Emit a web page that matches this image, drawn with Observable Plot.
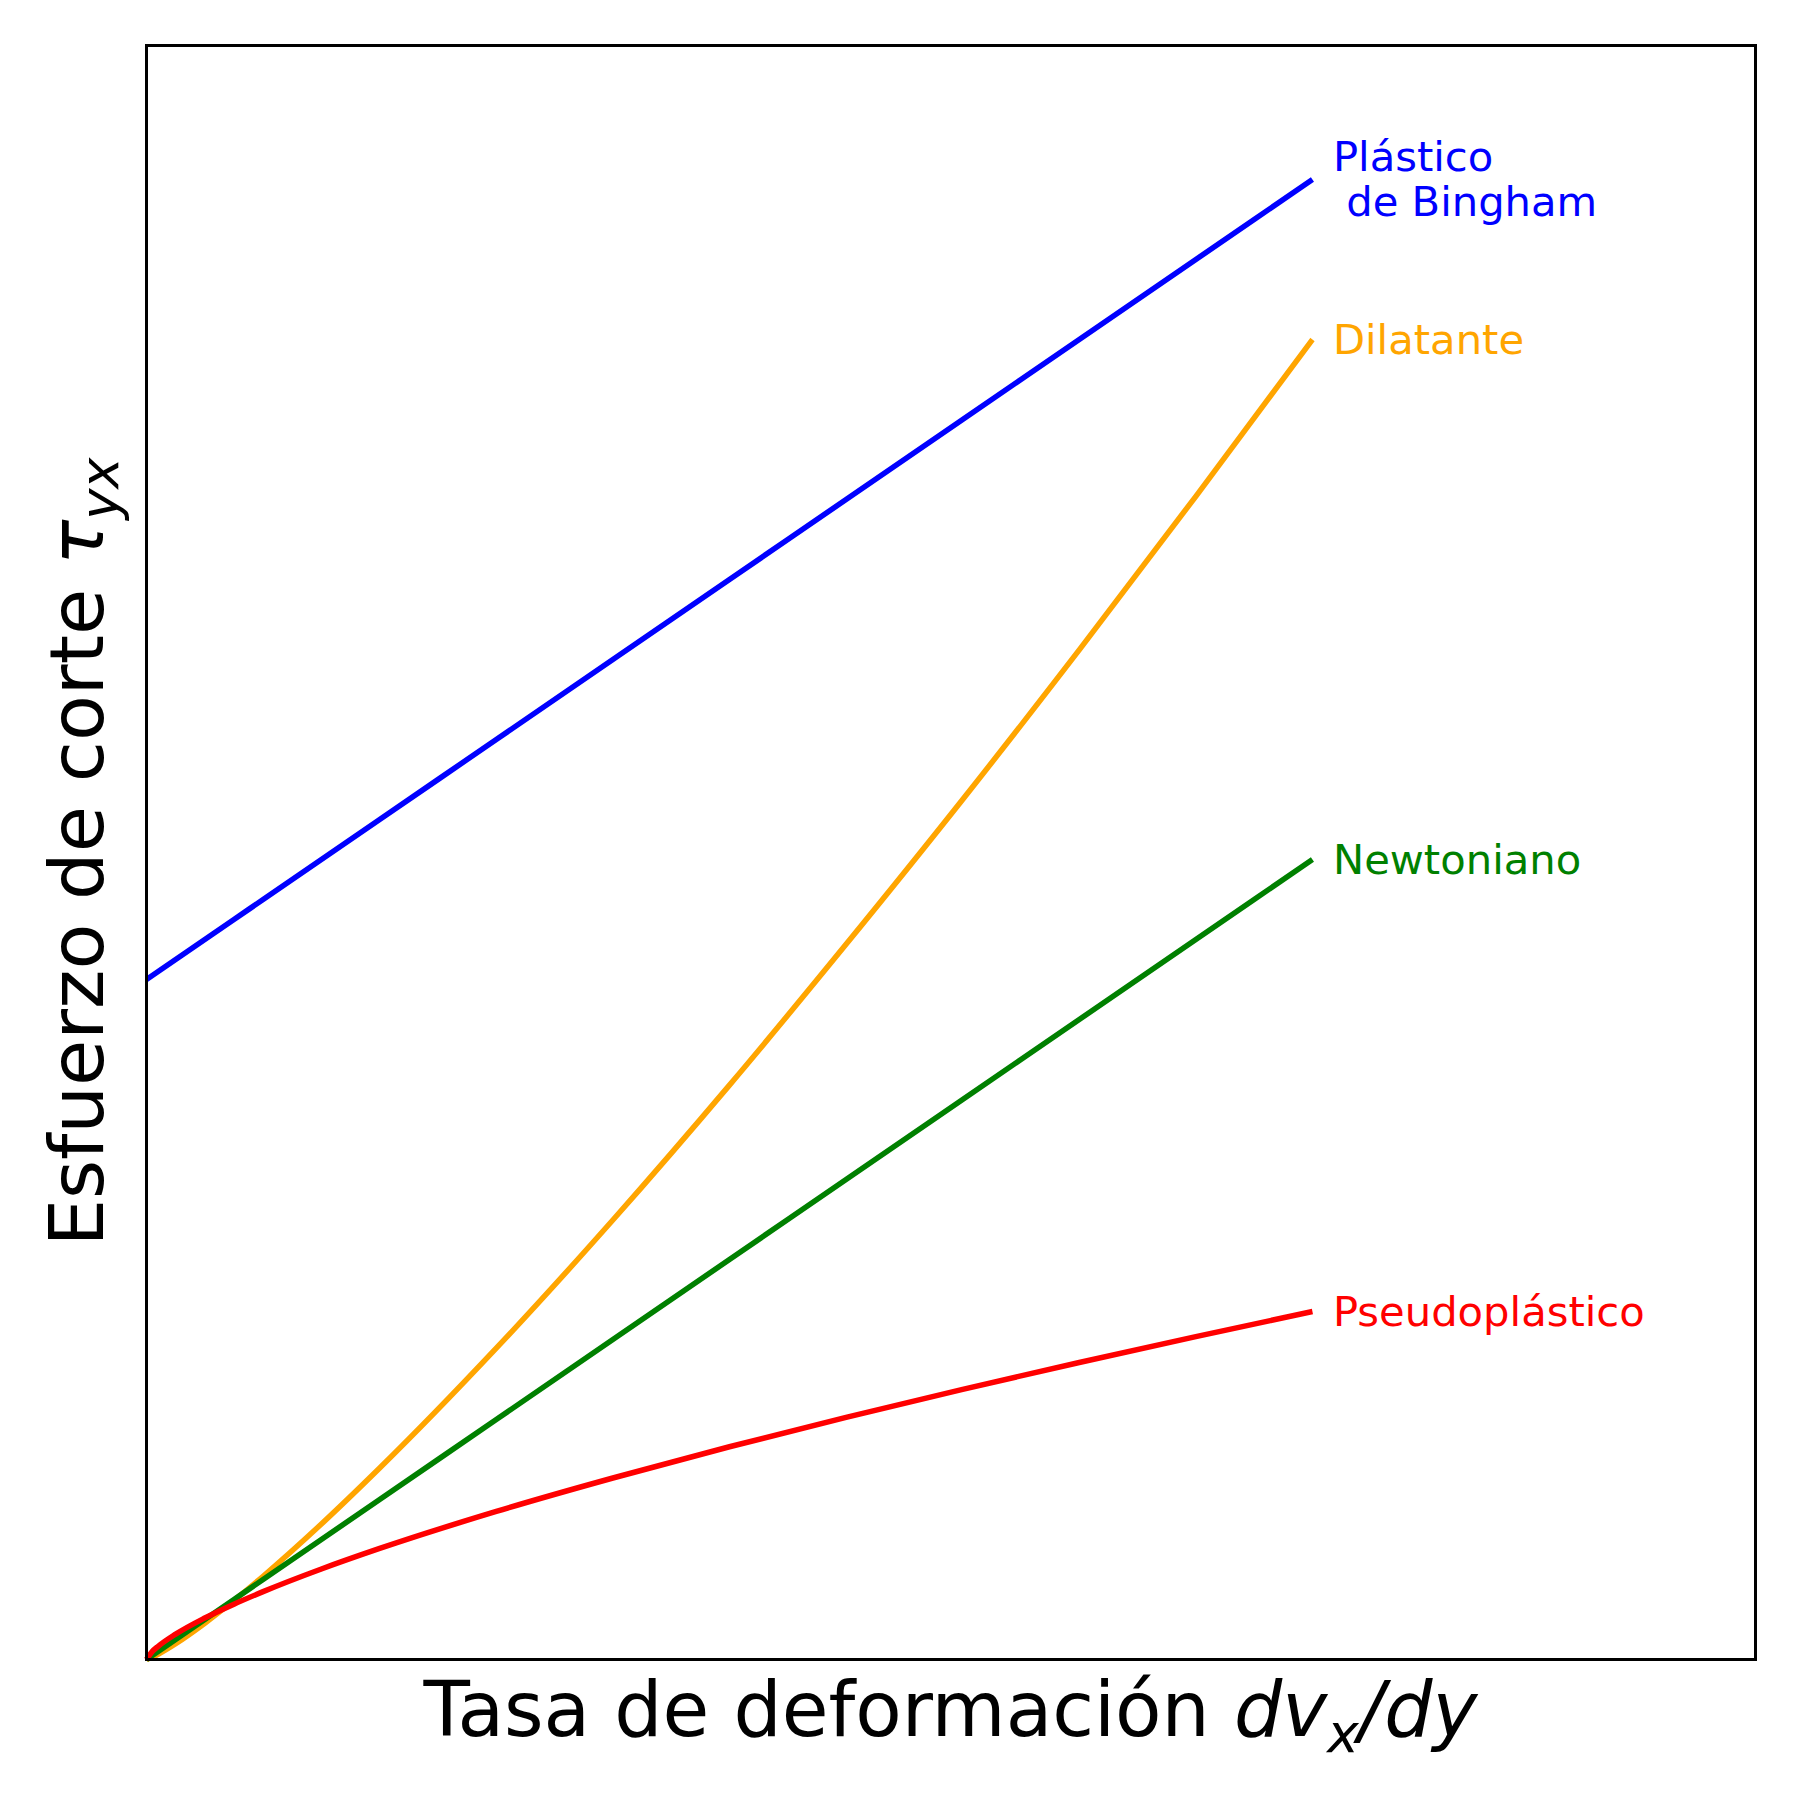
<!DOCTYPE html>
<html>
<head>
<meta charset="utf-8">
<script src="https://cdn.jsdelivr.net/npm/d3@7"></script>
<script src="https://cdn.jsdelivr.net/npm/@observablehq/plot@0.6"></script>
<style>
  html, body { margin: 0; padding: 0; background: #fff; }
  svg { display: block; }
</style>
</head>
<body>
<div id="chart"></div>
<script>
// Shear rate (arbitrary units)
const rates = [0, 0.05, 0.1, 0.25, 0.5, 0.75, 1, 1.5, 2, 3, 4, 5, 6, 7, 8, 9, 10];
// Shear stress for each fluid (arbitrary units)
const bingham     = [8.5, 8.55, 8.6, 8.75, 9.0, 9.25, 9.5, 10.0, 10.5, 11.5, 12.5, 13.5, 14.5, 15.5, 16.5, 17.5, 18.5];
const dilatante   = [0, 0.029, 0.066, 0.197, 0.453, 0.738, 1.041, 1.693, 2.393, 3.891, 5.494, 7.18, 8.94, 10.75, 12.62, 14.54, 16.5];
const newtoniano  = [0, 0.05, 0.1, 0.25, 0.5, 0.75, 1, 1.5, 2, 3, 4, 5, 6, 7, 8, 9, 10];
const pseudo      = [0, 0.101, 0.165, 0.317, 0.519, 0.692, 0.848, 1.131, 1.388, 1.851, 2.269, 2.659, 3.027, 3.377, 3.713, 4.036, 4.35];

const seriesNames  = ["Plástico\n\u00a0de Bingham", "Dilatante", "Newtoniano", "Pseudoplástico"];
const seriesColors = ["blue", "orange", "green", "red"];
const seriesValues = [bingham, dilatante, newtoniano, pseudo];

const xLabel = "Tasa de deformación";
const yLabel = "Esfuerzo de corte";

const rows = [];
seriesValues.forEach((vals, i) => {
  vals.forEach((v, j) => rows.push({serie: seriesNames[i], color: seriesColors[i], rate: rates[j], stress: v}));
});
const ends = seriesValues.map((vals, i) => ({
  serie: seriesNames[i], color: seriesColors[i],
  rate: rates[rates.length - 1], stress: vals[vals.length - 1]
}));

const W = 1800, H = 1800;
const mL = 146, mR = 45, mT = 45, mB = 141;

const svg = Plot.plot({
  width: W, height: H,
  marginLeft: mL, marginRight: mR, marginTop: mT, marginBottom: mB,
  style: {background: "#fff", fontFamily: "DejaVu Sans"},
  x: {domain: [0, 13.8], axis: null},
  y: {domain: [0, 20.175], axis: null},
  marks: [
    Plot.line(rows, {x: "rate", y: "stress", z: "serie", stroke: "color", strokeWidth: 5.5, curve: "monotone-x", strokeLinecap: "butt"}),
    Plot.text(ends, {x: "rate", y: "stress", text: "serie", fill: "color", dx: 20.5, textAnchor: "start", lineAnchor: "middle", lineHeight: 1.08, fontSize: 41.7, fontFamily: "DejaVu Sans"}),
    Plot.frame({stroke: "black", strokeWidth: 3})
  ]
});

document.getElementById("chart").appendChild(svg);

const s = d3.select(svg);
const fs = 76;
// x axis label
const xl = s.append("text")
  .attr("x", mL + (W - mL - mR) / 2)
  .attr("y", 1736)
  .attr("text-anchor", "middle")
  .attr("font-family", "DejaVu Sans")
  .attr("font-size", fs)
  .attr("fill", "black");
xl.append("tspan").text(xLabel + " ");
xl.append("tspan").attr("font-style", "italic").text("dv");
xl.append("tspan").attr("font-style", "italic").attr("font-size", fs * 0.7).attr("dy", 16).text("x");
xl.append("tspan").attr("font-style", "italic").attr("dy", -16).text("/dy");

// y axis label
const cy = mT + (H - mT - mB) / 2;
const yl = s.append("text")
  .attr("transform", `translate(102.5,${cy}) rotate(-90)`)
  .attr("text-anchor", "middle")
  .attr("font-family", "DejaVu Sans")
  .attr("font-size", 75)
  .attr("fill", "black");
yl.append("tspan").text(yLabel + " ");
yl.append("tspan").attr("font-style", "italic").text("τ");
yl.append("tspan").attr("font-style", "italic").attr("font-size", 75 * 0.7).attr("dy", 15).text("yx");
</script>
</body>
</html>
